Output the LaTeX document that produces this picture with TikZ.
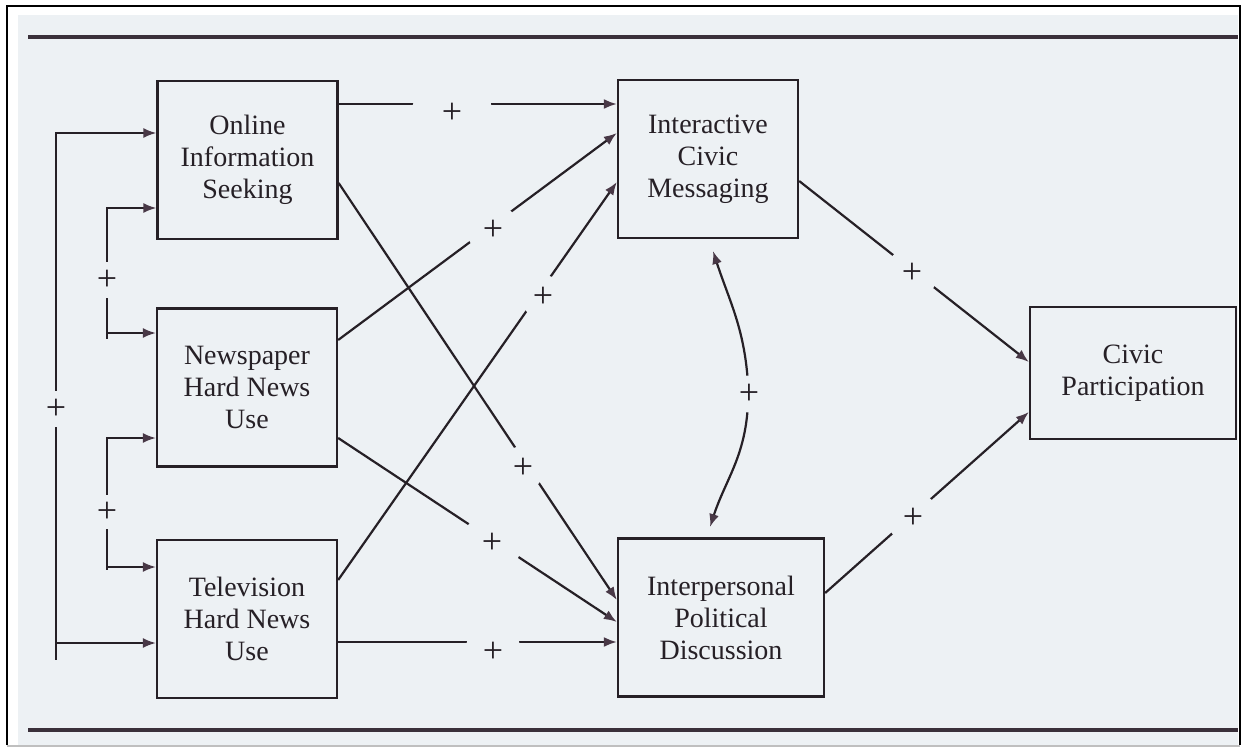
\documentclass[tikz,border=0pt]{standalone}
\usepackage{fontspec}
\setmainfont{Liberation Serif}
\usetikzlibrary{arrows.meta}
\definecolor{sheet}{RGB}{237,241,244}
\definecolor{ink}{RGB}{38,32,38}
\definecolor{arrowink}{RGB}{72,56,70}
\definecolor{rule}{RGB}{58,48,58}
\begin{document}
\begin{tikzpicture}
  [x=0.5pt,y=-0.5pt,>={Latex[length=6.5pt,width=5pt,color=arrowink]},
   every node/.style={text=ink,font=\fontsize{14}{16}\selectfont},
   box/.style={draw=ink,line width=1.15pt,align=center,inner sep=0pt,minimum width=90pt,minimum height=79pt},
   sign/.style={circle,fill=sheet,inner sep=0pt,minimum size=#1,font=\fontsize{18}{18}\selectfont},
   link/.style={draw=ink,line width=1.1pt,->}]
  \useasboundingbox (0,0) rectangle (1247,749);
  \fill[white] (0,0) rectangle (1247,749);
  \fill[sheet] (18,15) rectangle (1238,745);
  \draw[black,line width=1.3pt] (7,745) -- (7,6) -- (1240,6) -- (1240,745);
  \draw[gray!50,line width=1pt] (7,746) -- (1240,746);
  \draw[rule,line width=1.6pt] (28,37) -- (1238,37);
  \draw[rule,line width=2pt] (28,730) -- (1238,730);

  \node[box] (online) at (247.5,160) {Online\\Information\\Seeking};
  \node[box] (press) at (247,387.5) {Newspaper\\Hard News\\Use};
  \node[box] (tv) at (247,619) {Television\\Hard News\\Use};
  \node[box] (msg) at (708,159) {Interactive\\Civic\\Messaging};
  \node[box,minimum width=103pt] (talk) at (721,617.5) {Interpersonal\\Political\\Discussion};
  \node[box,minimum width=103pt,minimum height=66pt] (civic) at (1133,373) {Civic\\Participation};
  \coordinate (msgtip) at (713,251);
  \coordinate (talktip) at (710,527);

  \foreach \from/\fy/\to/\ty in {online/104/msg/104, online/183/talk/600, press/340/msg/133,
      press/438/talk/622, tv/580/msg/182, tv/642/talk/642, msg/181/civic/362, talk/593/civic/412}
    \draw[link] (\from.east |- 0,\fy) -- (\to.west |- 0,\ty);

  \foreach \top/\ty/\bot/\by/\x/\foot in {online/133/tv/643/56/660, online/208/press/333/107/339,
      press/438/tv/567/107/570}
  {
    \draw[link,<->,line width=.9pt] (\top.west |- 0,\ty) -| (\x,\by) -- (\bot.west |- 0,\by);
    \draw[ink,line width=.9pt] (\x,\by) -- (\x,\foot);
  }

  \foreach \name/\at/\d in {s1/{452,113}/40pt, s2/{523,468}/22pt, s3/{493,230}/26pt, s4/{492,543}/30pt,
      s5/{543,297}/22pt, s6/{493,652}/28pt, s7/{912,273}/26pt, s8/{913,518}/26pt, s9/{749,394}/18pt,
      sa/{56,409}/18pt, sb/{107,280}/18pt, sc/{107,512}/17pt}
    \node[sign=\d] (\name) at (\at) {+};

  \draw[link] (s9) to[out=95,in=-72] (msgtip);
  \draw[link] (s9) to[out=-95,in=72] (talktip);
\end{tikzpicture}
\end{document}
